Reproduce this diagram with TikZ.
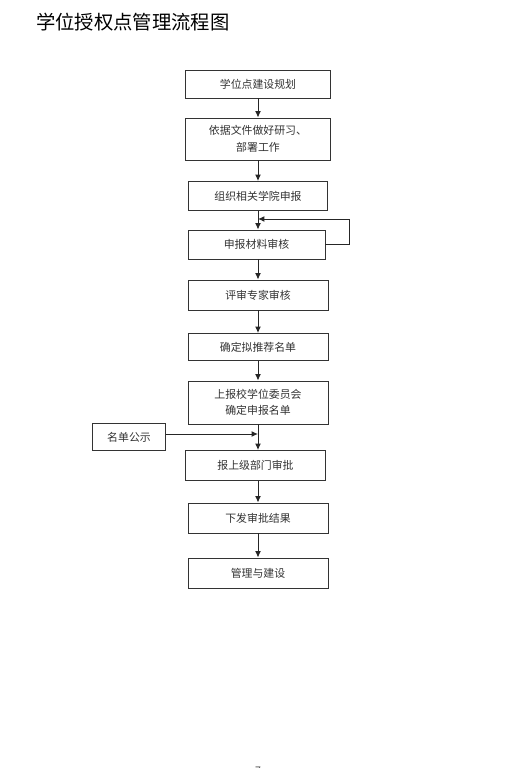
\documentclass[tikz,border=0pt]{standalone}
\usepackage{fontspec}
\setmainfont{Noto Sans CJK SC}
\usepackage{tikz}
\usepackage{xcolor}
\usetikzlibrary{positioning, calc, arrows.meta}

\begin{document}
\begin{tikzpicture}[x=0.03cm, y=-0.03cm,
    box/.style={draw=black!80, line width=0.75pt, fill=white, text=black!80, align=center,
        inner sep=0pt, font=\fontsize{9.3}{14}\selectfont},
    arr/.style={-{Latex[length=5.5pt,width=5pt]}, line width=0.85pt, draw=black!85}]
        \useasboundingbox (0,0) rectangle (516,768);
        \node[anchor=west, font=\fontsize{16.5}{20}\selectfont] (title) at (32,22) {学位授权点管理流程图};
        % main column
        \node[box, text width=4.35cm, minimum height=0.84cm] (b1) at (258,84) {学位点建设规划};
        \node[box, text width=4.35cm, minimum height=1.26cm] (b2) at (258,139) {依据文件做好研习、\\部署工作};
        \node[box, text width=4.17cm, minimum height=0.87cm] (b3) at (258,196) {组织相关学院申报};
        \node[box, text width=4.11cm, minimum height=0.87cm] (b4) at (256.5,244.5) {申报材料审核};
        \node[box, text width=4.2cm, minimum height=0.9cm] (b5) at (258,295) {评审专家审核};
        \node[box, text width=4.2cm, minimum height=0.81cm] (b6) at (258,347) {确定拟推荐名单};
        \node[box, text width=4.2cm, minimum height=1.29cm] (b7) at (258,402.5) {上报校学位委员会\\确定申报名单};
        \node[box, text width=2.19cm, minimum height=0.81cm] (b8) at (129,437) {名单公示};
        \node[box, text width=4.2cm, minimum height=0.9cm] (b9) at (255.5,465.5) {报上级部门审批};
        \node[box, text width=4.2cm, minimum height=0.9cm] (b10) at (258,518) {下发审批结果};
        \node[box, text width=4.2cm, minimum height=0.9cm] (b11) at (258,573) {管理与建设};
        \coordinate (lp) at (258,219);
        \coordinate (gs) at (258,434);
        \draw[arr] (b1) -- (b2);
        \draw[arr] (b2) -- (b3);
        \draw[arr] (b3.south -| lp) -- (b4.north -| lp);
        \draw[arr] (b4.east) -- (349,244.5) |- (lp);
        \draw[arr] (b4.south -| lp) -- (b5.north -| lp);
        \draw[arr] (b5) -- (b6);
        \draw[arr] (b6) -- (b7);
        \draw[arr] (b7.south -| lp) -- (b9.north -| lp);
        \draw[arr] (b8.east |- gs) -- (gs);
        \draw[arr] (b9.south -| lp) -- (b10.north -| lp);
        \draw[arr] (b10) -- (b11);
        \node[font=\fontsize{9}{10}\selectfont, text=black!70] (pg) at (258,771) {7};
    \end{tikzpicture}
\end{document}
